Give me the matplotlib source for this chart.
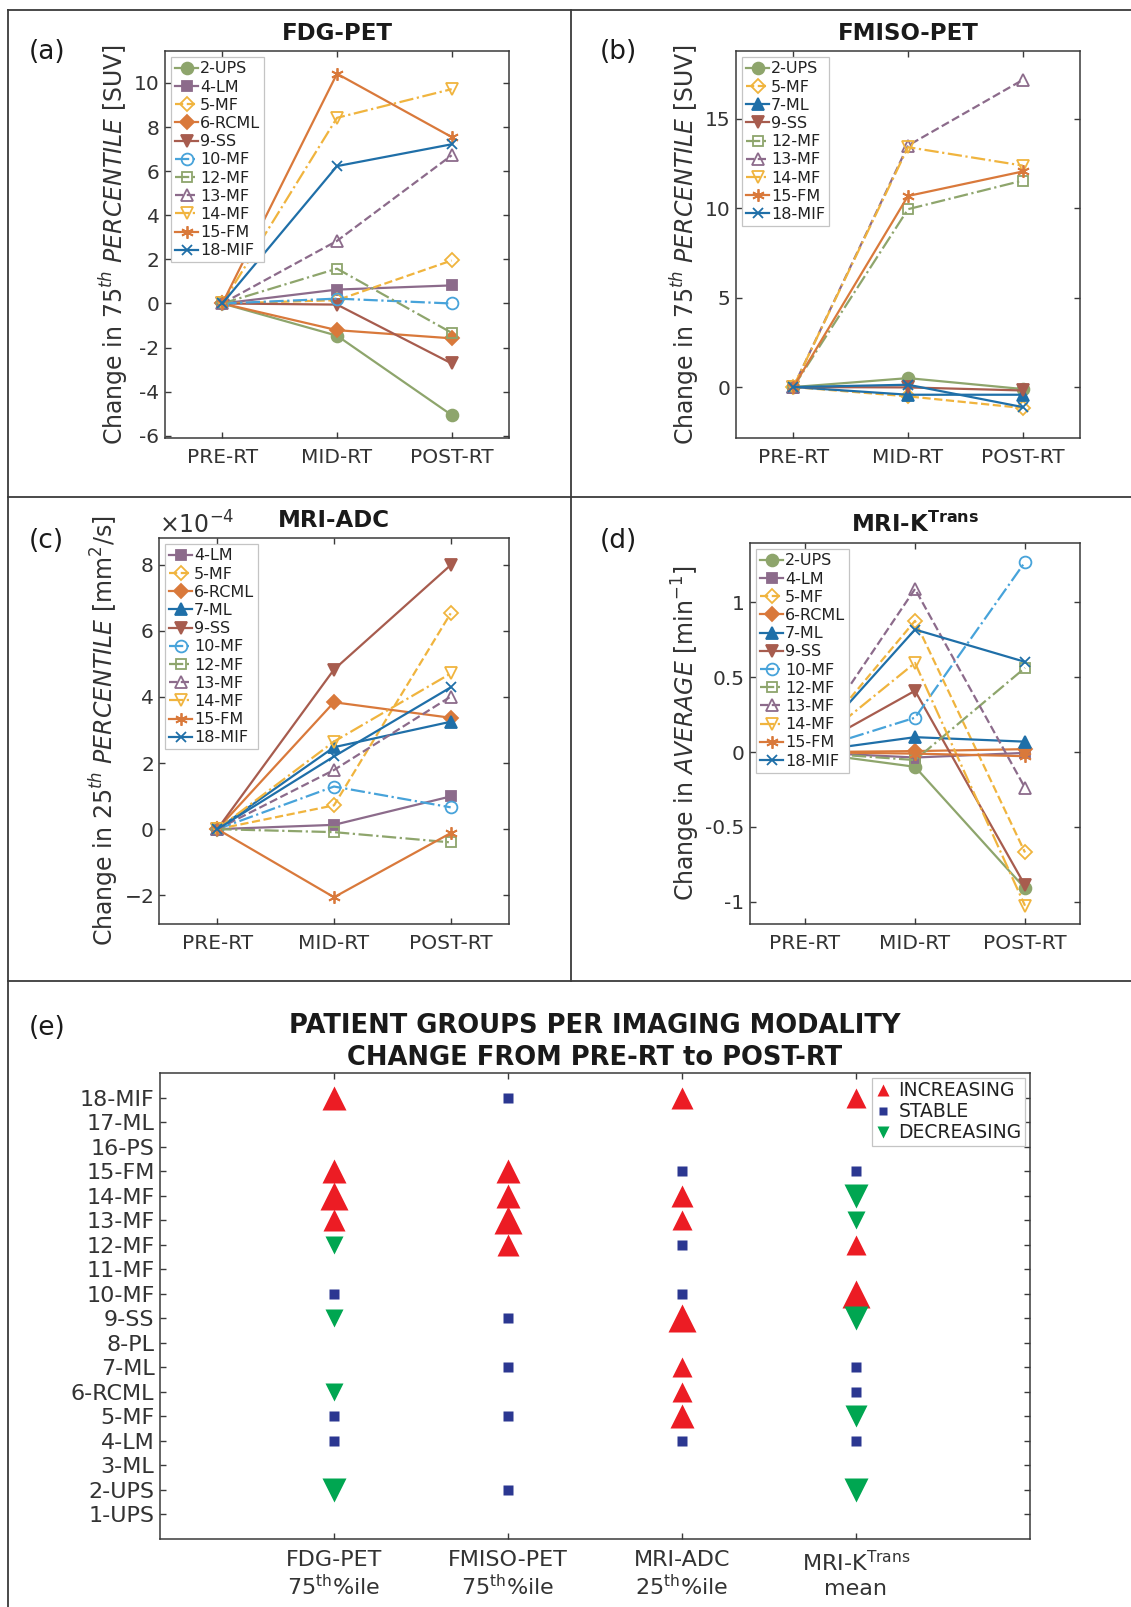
import matplotlib
matplotlib.use("Agg")
import matplotlib.pyplot as plt
from matplotlib.lines import Line2D
from matplotlib.ticker import FuncFormatter, ScalarFormatter

W, H = 1131, 1607

plt.rcParams["font.family"] = ["DejaVu Sans"]
plt.rcParams["axes.unicode_minus"] = False
plt.rcParams["mathtext.fontset"] = "dejavusans"

timepoints = ["PRE-RT", "MID-RT", "POST-RT"]

# change relative to PRE-RT, per patient: [PRE, MID, POST]
fdg_patients = ["2-UPS", "4-LM", "5-MF", "6-RCML", "9-SS", "10-MF",
                "12-MF", "13-MF", "14-MF", "15-FM", "18-MIF"]
fdg_values = [[0, -1.46, -5.06], [0, 0.63, 0.82], [0, 0.15, 1.95],
              [0, -1.21, -1.58], [0, -0.05, -2.72], [0, 0.22, 0.0],
              [0, 1.58, -1.33], [0, 2.84, 6.72], [0, 8.42, 9.72],
              [0, 10.42, 7.55], [0, 6.23, 7.22]]

fmiso_patients = ["2-UPS", "5-MF", "7-ML", "9-SS", "12-MF", "13-MF",
                  "14-MF", "15-FM", "18-MIF"]
fmiso_values = [[0, 0.50, -0.11], [0, -0.52, -1.17], [0, -0.43, -0.43],
                [0, -0.02, -0.19], [0, 9.95, 11.55], [0, 13.51, 17.18],
                [0, 13.42, 12.39], [0, 10.69, 12.06], [0, 0.13, -1.12]]

# MRI-ADC in units of 1e-4 mm^2/s
adc_scale = 1e-4
adc_patients = ["4-LM", "5-MF", "6-RCML", "7-ML", "9-SS", "10-MF",
                "12-MF", "13-MF", "14-MF", "15-FM", "18-MIF"]
adc_values = [[0, 0.13, 0.99], [0, 0.72, 6.53], [0, 3.84, 3.37],
              [0, 2.48, 3.25], [0, 4.83, 7.99], [0, 1.29, 0.66],
              [0, -0.09, -0.40], [0, 1.79, 4.01], [0, 2.65, 4.71],
              [0, -2.06, -0.12], [0, 2.20, 4.29]]

ktrans_patients = ["2-UPS", "4-LM", "5-MF", "6-RCML", "7-ML", "9-SS",
                   "10-MF", "12-MF", "13-MF", "14-MF", "15-FM", "18-MIF"]
ktrans_values = [[0, -0.098, -0.91], [0, -0.036, -0.005], [0, 0.877, -0.67],
                 [0, 0.007, 0.02], [0, 0.10, 0.07], [0, 0.41, -0.89],
                 [0, 0.23, 1.27], [0, -0.053, 0.563], [0, 1.09, -0.238],
                 [0, 0.596, -1.026], [0, -0.01, -0.027], [0, 0.819, 0.603]]

# panel (e): trend from PRE-RT to POST-RT, with magnitude level (0 = stable)
all_patients = ["1-UPS", "2-UPS", "3-ML", "4-LM", "5-MF", "6-RCML", "7-ML",
                "8-PL", "9-SS", "10-MF", "11-MF", "12-MF", "13-MF", "14-MF",
                "15-FM", "16-PS", "17-ML", "18-MIF"]
modalities = [r"FDG-PET" "\n" r"75$^{\mathrm{th}}$%ile",
              r"FMISO-PET" "\n" r"75$^{\mathrm{th}}$%ile",
              r"MRI-ADC" "\n" r"25$^{\mathrm{th}}$%ile",
              r"MRI-K$^{\mathrm{Trans}}$" "\n" r"mean"]

fdg_trend_pts = ["18-MIF", "15-FM", "14-MF", "13-MF", "12-MF", "10-MF",
                 "9-SS", "6-RCML", "5-MF", "4-LM", "2-UPS"]
fdg_trend = ["up", "up", "up", "up", "down", "stable", "down", "down",
             "stable", "stable", "down"]
fdg_level = [4, 4, 5, 3, 1, 0, 1, 1, 0, 0, 4]

fmiso_trend_pts = ["18-MIF", "15-FM", "14-MF", "13-MF", "12-MF", "9-SS",
                   "7-ML", "5-MF", "2-UPS"]
fmiso_trend = ["stable", "up", "up", "up", "up", "stable", "stable",
               "stable", "stable"]
fmiso_level = [0, 4, 4, 5, 3, 0, 0, 0, 0]

adc_trend_pts = ["18-MIF", "15-FM", "14-MF", "13-MF", "12-MF", "10-MF",
                 "9-SS", "7-ML", "6-RCML", "5-MF", "4-LM"]
adc_trend = ["up", "stable", "up", "up", "stable", "stable", "up", "up",
             "up", "up", "stable"]
adc_level = [3, 0, 3, 2, 0, 0, 5, 2, 2, 4, 0]

ktrans_trend_pts = ["18-MIF", "15-FM", "14-MF", "13-MF", "12-MF", "10-MF",
                    "9-SS", "7-ML", "6-RCML", "5-MF", "4-LM", "2-UPS"]
ktrans_trend = ["up", "stable", "down", "down", "up", "up", "down", "stable",
                "stable", "down", "stable", "down"]
ktrans_level = [2, 0, 4, 1, 2, 5, 4, 0, 0, 3, 0, 4]

# ---- styles ----
GREEN = "#8ea56c"
MAUVE = "#8c6b8b"
YELLOW = "#f0b43e"
ORANGE = "#d9793b"
BLUE = "#1f6fa8"
BROWN = "#a75c4e"
LBLUE = "#47a3da"
ASTER = (6, 2, 0)

STYLE = {
    "2-UPS": (GREEN, "o", True, "-"),
    "4-LM": (MAUVE, "s", True, "-"),
    "5-MF": (YELLOW, "D", False, "--"),
    "6-RCML": (ORANGE, "D", True, "-"),
    "7-ML": (BLUE, "^", True, "-"),
    "9-SS": (BROWN, "v", True, "-"),
    "10-MF": (LBLUE, "o", False, "-."),
    "12-MF": (GREEN, "s", False, "-."),
    "13-MF": (MAUVE, "^", False, "--"),
    "14-MF": (YELLOW, "v", False, "-."),
    "15-FM": (ORANGE, ASTER, True, "-"),
    "18-MIF": (BLUE, "x", True, "-"),
}
MS = {"o": 8.5, "s": 7.5, "D": 7.5, "^": 9, "v": 9, "x": 7.5, ASTER: 9}

TXT = "#333333"
AXC = "#3a3a3a"


def px_axes(x0, y0, x1, y1):
    return [x0 / W, 1 - y1 / H, (x1 - x0) / W, (y1 - y0) / H]


def style_axes(ax, fs=14.5):
    for s in ax.spines.values():
        s.set_color(AXC)
        s.set_linewidth(1.1)
    ax.tick_params(direction="in", top=True, right=True, length=4.5,
                   width=1.0, color=AXC, labelcolor=TXT, labelsize=fs)
    ax.tick_params(axis="x", pad=7)
    ax.tick_params(axis="y", pad=4)


def line_panel(rect, patients, values, title, ylabel, ylim, yticks,
               scale=1.0):
    ax = fig.add_axes(px_axes(*rect))
    xs = [1, 2, 3]
    for p, v in zip(patients, values):
        c, m, filled, ls = STYLE[p]
        ax.plot(xs, [val * scale for val in v], color=c, ls=ls, lw=1.6,
                marker=m, ms=MS[m], mfc=c if filled else "none", mec=c,
                mew=1.3, label=p)
    ax.set_xlim(0.5, 3.5)
    ax.set_ylim(*ylim)
    ax.set_xticks(xs)
    ax.set_xticklabels(timepoints)
    ax.set_yticks(yticks)
    style_axes(ax)
    ax.set_title(title, fontsize=16.5, fontweight="bold", color="#1a1a1a",
                 pad=8)
    ax.set_ylabel(ylabel, fontsize=17, color=TXT, labelpad=2)
    leg = ax.legend(loc="upper left", fontsize=11.5, fancybox=False,
                    framealpha=1, edgecolor="#c4c4c4", borderpad=0.25,
                    labelspacing=0.2, handlelength=1.4, handletextpad=0.15,
                    borderaxespad=0.4)
    leg.get_frame().set_linewidth(0.9)
    for t in leg.get_texts():
        t.set_color("#222222")
    return ax


fig = plt.figure(figsize=(W / 100, H / 100), dpi=100)

gfmt = FuncFormatter(lambda v, pos: "%g" % v)

ax_a = line_panel((165, 51, 509, 438), fdg_patients, fdg_values, "FDG-PET",
                  r"Change in $\mathit{75^{th}\ PERCENTILE}$ [SUV]",
                  (-6.1, 11.45), range(-6, 11, 2))
ax_a.yaxis.set_major_formatter(gfmt)

ax_b = line_panel((736, 51, 1080, 438), fmiso_patients, fmiso_values,
                  "FMISO-PET",
                  r"Change in $\mathit{75^{th}\ PERCENTILE}$ [SUV]",
                  (-2.85, 18.8), [0, 5, 10, 15])
ax_b.yaxis.set_major_formatter(gfmt)

ax_c = line_panel((159, 538, 509, 924), adc_patients, adc_values, "MRI-ADC",
                  r"Change in $\mathit{25^{th}\ PERCENTILE}$ [mm$^2$/s]",
                  (-2.87e-4, 8.81e-4), [-2e-4, 0, 2e-4, 4e-4, 6e-4, 8e-4],
                  scale=adc_scale)
sf = ScalarFormatter(useMathText=True)
sf.set_powerlimits((-3, 3))
ax_c.yaxis.set_major_formatter(sf)
ax_c.yaxis.get_offset_text().set_fontsize(17)
ax_c.yaxis.get_offset_text().set_color(TXT)

ax_d = line_panel((750, 543, 1080, 924), ktrans_patients, ktrans_values,
                  r"MRI-K$^{\mathbf{Trans}}$",
                  r"Change in $\mathit{AVERAGE}$ [min$^{-1}$]",
                  (-1.148, 1.397), [-1, -0.5, 0, 0.5, 1])
ax_d.yaxis.set_major_formatter(gfmt)

# ---- panel (e) ----
RED = "#ec1c24"
NAVY = "#2b3791"
DGREEN = "#00a651"
TREND = {"up": (RED, "^"), "stable": (NAVY, "s"), "down": (DGREEN, "v")}
LEVEL_MS = {0: 6.5, 1: 13.0, 2: 14.5, 3: 16.0, 4: 17.8, 5: 20.0}

ax_e = fig.add_axes(px_axes(160, 1073, 1030, 1539))
groups = [(fdg_trend_pts, fdg_trend, fdg_level),
          (fmiso_trend_pts, fmiso_trend, fmiso_level),
          (adc_trend_pts, adc_trend, adc_level),
          (ktrans_trend_pts, ktrans_trend, ktrans_level)]
for j, (pts, trends, levels) in enumerate(groups):
    for p, t, lv in zip(pts, trends, levels):
        c, m = TREND[t]
        ax_e.plot([j + 1], [all_patients.index(p) + 1], ls="none", marker=m,
                  ms=LEVEL_MS[lv], color=c, mec="none")
ax_e.set_xlim(0, 5)
ax_e.set_ylim(0, 19)
ax_e.set_xticks(range(1, 5))
ax_e.set_xticklabels(modalities)
ax_e.set_yticks(range(1, 19))
ax_e.set_yticklabels(all_patients)
style_axes(ax_e, fs=16)
ax_e.tick_params(axis="x", pad=8)
ax_e.set_title("PATIENT GROUPS PER IMAGING MODALITY\n"
               "CHANGE FROM PRE-RT to POST-RT", fontsize=18.5,
               fontweight="bold", color="#1a1a1a", pad=6, linespacing=1.3)
handles = [Line2D([], [], ls="none", marker="^", ms=9, color=RED, mec="none"),
           Line2D([], [], ls="none", marker="s", ms=5.5, color=NAVY, mec="none"),
           Line2D([], [], ls="none", marker="v", ms=9, color=DGREEN, mec="none")]
leg = ax_e.legend(handles, ["INCREASING", "STABLE", "DECREASING"],
                  loc="upper right", fontsize=13.5, fancybox=False,
                  framealpha=1, edgecolor="#c4c4c4", borderpad=0.2,
                  labelspacing=0.1, handlelength=0.8, handletextpad=0.4,
                  borderaxespad=0.25)
leg.get_frame().set_linewidth(0.9)
for t in leg.get_texts():
    t.set_color("#222222")


# ---- panel frames and labels ----
def frame_line(x0, y0, x1, y1):
    fig.add_artist(Line2D([x0 / W, x1 / W], [1 - y0 / H, 1 - y1 / H],
                          transform=fig.transFigure, color="#3a3a3a", lw=1.3))


frame_line(8, 10, W, 10)
frame_line(8, 10, 8, H)
frame_line(571, 10, 571, 981)
frame_line(8, 497, W, 497)
frame_line(8, 981, W, 981)

for lab, x, y in [("(a)", 29, 52), ("(b)", 600, 52), ("(c)", 29, 541),
                  ("(d)", 600, 541), ("(e)", 29, 1028)]:
    fig.text(x / W, 1 - y / H, lab, fontsize=19, ha="left", va="center",
             color="#1a1a1a")

fig.savefig("out.png", dpi=100)
